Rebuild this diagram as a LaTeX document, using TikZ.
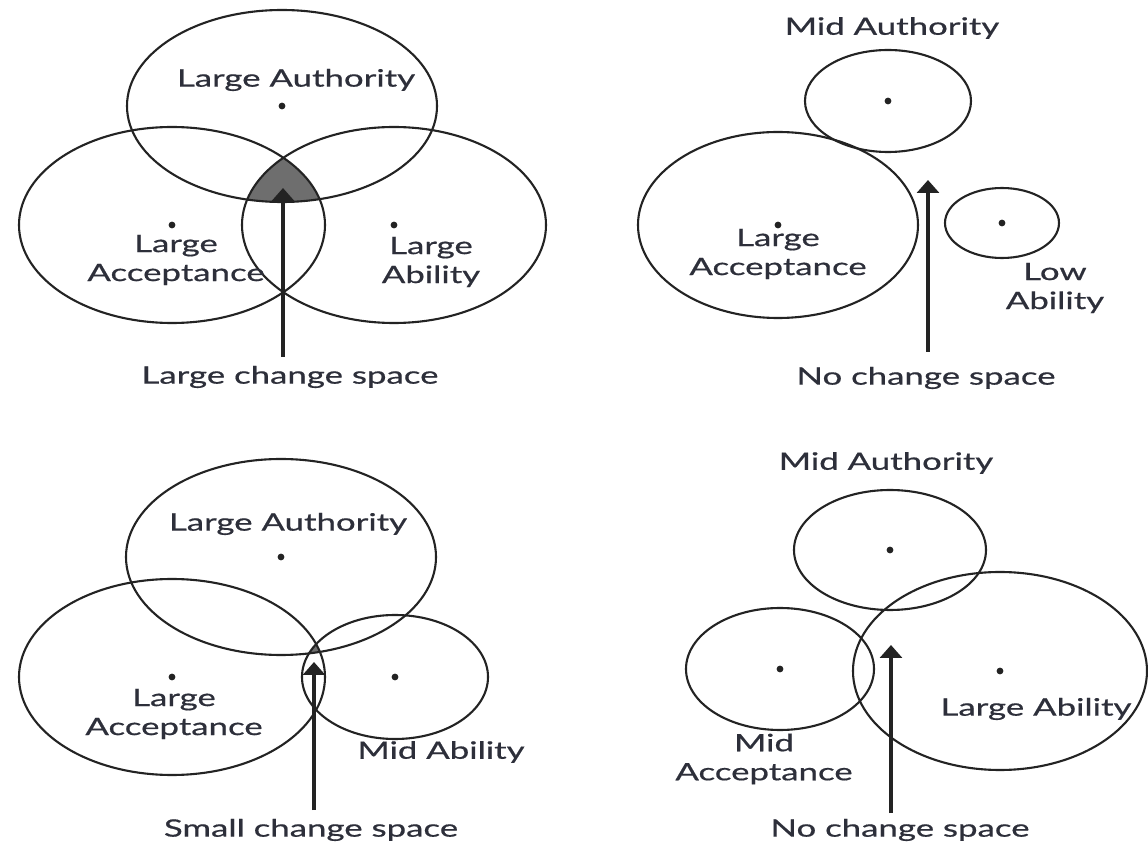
\documentclass[tikz,border=0pt]{standalone}
\usepackage{fontspec}
\setmainfont{Lato}[FakeStretch=1.45,FakeBold=0.6]
\usetikzlibrary{shapes.geometric,arrows.meta}
\definecolor{ink}{RGB}{45,47,58}
\definecolor{linec}{RGB}{35,35,35}
\definecolor{shadec}{RGB}{110,110,110}
\begin{document}
\begin{tikzpicture}[x=0.5pt,y=-0.5pt,
  ring/.style={ellipse, draw=linec, line width=1.05pt, inner sep=0pt, outer sep=0pt},
  ctr/.style={circle, fill=linec, inner sep=0pt, minimum size=3.4pt},
  lbl/.style={font=\fontsize{12}{14.5}\selectfont, text=ink, align=center, inner sep=0pt},
  arr/.style={line width=1.7pt, draw=linec, -{Triangle[width=11pt,length=6.5pt]}}]
\useasboundingbox (0,0) rectangle (1148,845);
\fill[white] (0,0) rectangle (1148,845);

% ---------------- top left ----------------
\begin{scope}
  \clip (282,106) ellipse [x radius=77.5pt, y radius=48pt];
  \clip (172,225) ellipse [x radius=76.5pt, y radius=49pt];
  \fill[shadec] (394,225) ellipse [x radius=76pt, y radius=49pt];
\end{scope}
\node[ring, minimum width=155pt, minimum height=96pt] (authTL) at (282,106) {};
\node[ring, minimum width=153pt, minimum height=98pt] (accTL) at (172,225) {};
\node[ring, minimum width=152pt, minimum height=98pt] (ablTL) at (394,225) {};
\node[ctr] (dAuthTL) at (authTL.center) {};
\node[ctr] (dAccTL) at (accTL.center) {};
\node[ctr] (dAblTL) at (ablTL.center) {};
\node[lbl] (tAuthTL) at (296,80) {Large Authority};
\node[lbl] (tAccTL) at (176,260) {Large\\Acceptance};
\node[lbl] (tAblTL) at (431,262) {Large\\Ability};
\coordinate (tipTL) at (283,188);
\coordinate (footTL) at (283,357);
\draw[arr] (footTL) -- (tipTL);
\node[lbl] (capTL) at (290,377) {Large change space};

% ---------------- top right ----------------
\node[lbl] (tAuthTR) at (892,28) {Mid Authority};
\node[ring, minimum width=83pt, minimum height=51pt] (authTR) at (888,101) {};
\node[ring, minimum width=140pt, minimum height=93pt] (accTR) at (778,225) {};
\node[ring, minimum width=57pt, minimum height=35pt] (ablTR) at (1002,223) {};
\node[ctr] (dAuthTR) at (authTR.center) {};
\node[ctr] (dAccTR) at (accTR.center) {};
\node[ctr] (dAblTR) at (ablTR.center) {};
\node[lbl] (tAccTR) at (778,254) {Large\\Acceptance};
\node[lbl] (tAblTR) at (1055,288) {Low\\Ability};
\coordinate (tipTR) at (928,180);
\coordinate (footTR) at (928,352);
\draw[arr] (footTR) -- (tipTR);
\node[lbl] (capTR) at (926,378) {No change space};

% ---------------- bottom left ----------------
\begin{scope}
  \clip (281,557) ellipse [x radius=77.5pt, y radius=49pt];
  \clip (172,677) ellipse [x radius=76.5pt, y radius=49pt];
  \fill[shadec] (395,677) ellipse [x radius=46.5pt, y radius=31pt];
\end{scope}
\node[ring, minimum width=155pt, minimum height=98pt] (authBL) at (281,557) {};
\node[ring, minimum width=153pt, minimum height=98pt] (accBL) at (172,677) {};
\node[ring, minimum width=93pt, minimum height=62pt] (ablBL) at (395,677) {};
\node[ctr] (dAuthBL) at (authBL.center) {};
\node[ctr] (dAccBL) at (accBL.center) {};
\node[ctr] (dAblBL) at (ablBL.center) {};
\node[lbl] (tAuthBL) at (288,524) {Large Authority};
\node[lbl] (tAccBL) at (174,714) {Large\\Acceptance};
\node[lbl] (tAblBL) at (441,752) {Mid Ability};
\coordinate (tipBL) at (314,662);
\coordinate (footBL) at (314,810);
\draw[arr] (footBL) -- (tipBL);
\node[lbl] (capBL) at (311,830) {Small change space};

% ---------------- bottom right ----------------
\node[lbl] (tAuthBR) at (886,463) {Mid Authority};
\node[ring, minimum width=96pt, minimum height=60pt] (authBR) at (890,550) {};
\node[ring, minimum width=94pt, minimum height=61pt] (accBR) at (780,669) {};
\node[ring, minimum width=147pt, minimum height=99pt] (ablBR) at (1000,671) {};
\node[ctr] (dAuthBR) at (authBR.center) {};
\node[ctr] (dAccBR) at (accBR.center) {};
\node[ctr] (dAblBR) at (ablBR.center) {};
\node[lbl] (tAblBR) at (1036,709) {Large Ability};
\node[lbl] (tAccBR) at (764,759) {Mid\\Acceptance};
\coordinate (tipBR) at (891,645);
\coordinate (footBR) at (891,813);
\draw[arr] (footBR) -- (tipBR);
\node[lbl] (capBR) at (900,830) {No change space};
\end{tikzpicture}
\end{document}
